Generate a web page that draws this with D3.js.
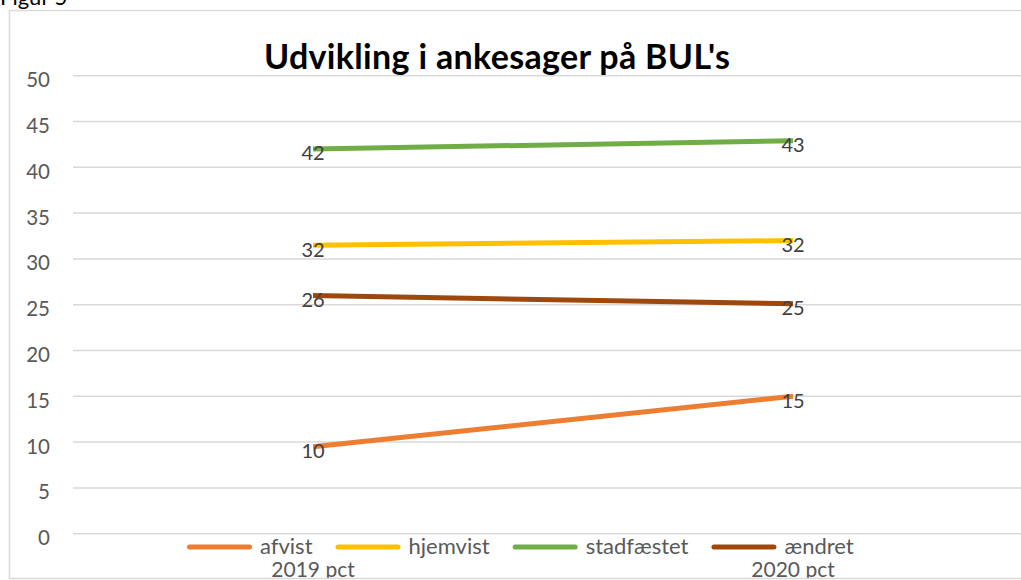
<!DOCTYPE html>
<html>
<head>
<meta charset="utf-8">
<script src="https://cdn.jsdelivr.net/npm/d3@7"></script>
<style>
  html, body { margin: 0; padding: 0; background: #fff; overflow: hidden; }
  text { font-family: Lato, "Open Sans", sans-serif; }
</style>
</head>
<body>
<script>
'use strict';

// chart data
const categories = ['2019 pct', '2020 pct'];
const seriesNames = ['afvist', 'hjemvist', 'stadfæstet', 'ændret'];
const afvist = [9.5, 15];
const hjemvist = [31.5, 32];
const stadfaestet = [42, 42.9];
const aendret = [26, 25.1];
const yTicks = [0, 5, 10, 15, 20, 25, 30, 35, 40, 45, 50];
const seriesColors = ['#ED7D31', '#FFC000', '#70AD47', '#9E480E'];

(function () {
  const width = 1021, height = 580;

  const svg = d3.select('body')
    .append('svg')
    .attr('width', width)
    .attr('height', height);

  // chart area frame + clip
  svg.append('clipPath').attr('id', 'frameClip')
    .append('rect')
    .attr('x', 9).attr('y', 10)
    .attr('width', width).attr('height', 568);

  const chart = svg.append('g').attr('clip-path', 'url(#frameClip)');

  // scales
  const x = d3.scaleBand()
    .domain(categories)
    .range([73, 1033]);

  const y = d3.scaleLinear()
    .domain([0, 50])
    .range([533.7, 75.7]);

  const xc = d => x(d) + x.bandwidth() / 2;

  // gridlines
  chart.append('g')
    .selectAll('line')
    .data(yTicks)
    .enter()
    .append('line')
    .attr('x1', 73)
    .attr('x2', width)
    .attr('y1', d => y(d))
    .attr('y2', d => y(d))
    .attr('stroke', '#d9d9d9')
    .attr('stroke-width', 1.5);

  // y axis labels
  const yAxis = d3.axisLeft(y).tickValues(yTicks).tickSize(0).tickPadding(0);
  const yG = chart.append('g')
    .attr('transform', 'translate(50,0)')
    .call(yAxis);
  yG.select('.domain').remove();
  yG.selectAll('text')
    .attr('dy', 11)
    .attr('fill', '#595959')
    .style('font-size', '20.5px')
    .style('font-family', 'Lato, sans-serif');

  // category labels
  const xAxis = d3.axisBottom(x).tickSize(0).tickPadding(0);
  const xG = chart.append('g')
    .attr('transform', 'translate(0,577)')
    .call(xAxis);
  xG.select('.domain').remove();
  xG.selectAll('text')
    .attr('dy', 0)
    .attr('fill', '#595959')
    .style('font-size', '21px')
    .style('font-family', 'Lato, sans-serif');

  // series lines
  const allSeries = [afvist, hjemvist, stadfaestet, aendret];
  const line = d3.line()
    .x((d, i) => xc(categories[i]))
    .y(d => y(d));

  allSeries.forEach((vals, s) => {
    chart.append('path')
      .datum(vals)
      .attr('d', line)
      .attr('fill', 'none')
      .attr('stroke', seriesColors[s])
      .attr('stroke-width', 5)
      .attr('stroke-linejoin', 'round');
  });

  // data labels
  allSeries.forEach((vals) => {
    chart.append('g')
      .selectAll('text')
      .data(vals)
      .enter()
      .append('text')
      .attr('x', (d, i) => xc(categories[i]))
      .attr('y', d => y(d) + 11.5)
      .attr('text-anchor', 'middle')
      .attr('fill', '#404040')
      .style('font-size', '20px')
      .text(d => Math.round(d));
  });

  // legend
  const legend = chart.append('g');
  let lx = 187;
  seriesNames.forEach((name, s) => {
    legend.append('line')
      .attr('x1', lx + 2.5).attr('x2', lx + 62.5)
      .attr('y1', 547).attr('y2', 547)
      .attr('stroke', seriesColors[s])
      .attr('stroke-width', 5)
      .attr('stroke-linecap', 'round');
    const t = legend.append('text')
      .attr('x', lx + 73)
      .attr('y', 554)
      .attr('fill', '#595959')
      .style('font-size', '22px')
      .text(name);
    lx = lx + 73 + t.node().getComputedTextLength() + 23;
  });

  // title
  chart.append('text')
    .attr('x', 497)
    .attr('y', 69)
    .attr('text-anchor', 'middle')
    .attr('fill', '#000')
    .style('font-size', '34px')
    .style('font-weight', 'bold')
    .attr('textLength', 466)
    .attr('lengthAdjust', 'spacing')
    .text("Udvikling i ankesager på BUL's");

  // frame border
  svg.append('path')
    .attr('d', 'M' + (width + 2) + ',10.5 H9.5 V578.5 H' + (width + 2))
    .attr('fill', 'none')
    .attr('stroke', '#d9d9d9')
    .attr('stroke-width', 1.5);

  // caption above the chart, cut off at the top like the reference
  svg.append('text')
    .attr('x', 0)
    .attr('y', 5)
    .attr('fill', '#000')
    .style('font-size', '22px')
    .text('Figur 5');
})();
</script>
</body>
</html>
